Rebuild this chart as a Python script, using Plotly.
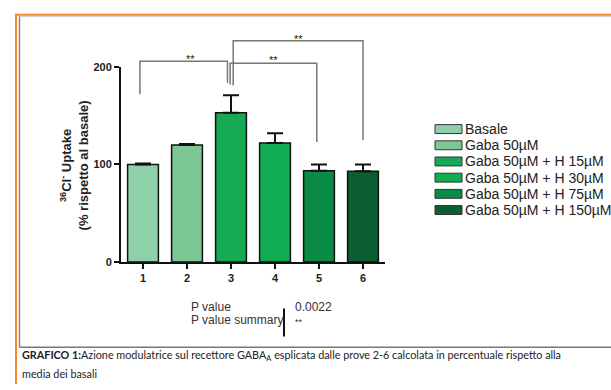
import plotly.graph_objects as go

# ---------------- data ----------------
categories = [1, 2, 3, 4, 5, 6]
series_labels = ["Basale", "Gaba 50µM", "Gaba 50µM + H 15µM", "Gaba 50µM + H 30µM",
                 "Gaba 50µM + H 75µM", "Gaba 50µM + H 150µM"]
uptake_mean = [100, 120, 153, 122, 93.5, 93]
uptake_err = [1, 1, 18, 10, 6.5, 7]
y_ticks = [0, 100, 200]
comparisons = [(1, 3), (3, 5), (3, 6)]
comparison_marks = ["**", "**", "**"]
p_value = "0.0022"
p_summary = "**"

# ---------------- styles / layout ----------------
W, H = 611, 390
bar_colors = ["#8fd0a9", "#7cc795", "#17aa55", "#0fae52", "#0a8b45", "#0b5e30"]
FONT = "Liberation Sans, Arial, sans-serif"

def PX(px):
    return px / W

def PY(py):
    return 1 - py / H

x_dom = [PX(121), PX(385)]
y_dom = [PY(264), PY(63)]
x_rng = [0.5, 6.5]
y_rng = [0, 200]

def dx(v):
    return x_dom[0] + (v - x_rng[0]) / (x_rng[1] - x_rng[0]) * (x_dom[1] - x_dom[0])

def dy(v):
    return y_dom[0] + (v - y_rng[0]) / (y_rng[1] - y_rng[0]) * (y_dom[1] - y_dom[0])

fig = go.Figure()
fig.add_trace(go.Bar(
    x=categories, y=uptake_mean, width=0.7,
    marker=dict(color=bar_colors, line=dict(color="#111", width=1.5)),
    error_y=dict(type="data", array=uptake_err, arrayminus=[0] * len(uptake_err),
                 symmetric=False, color="#111", thickness=2, width=8),
    showlegend=False, hoverinfo="skip",
))

shapes = []
annotations = []

# brackets: (left x offset, right x offset, top, left leg bottom, right leg bottom, star y)
bracket_geom = [
    (-0.07, -0.08, 206, 172, 184, 217),
    (-0.02, -0.05, 204, 182, 123, 215),
    (0.05, 0.0, 227, 181, 125, 237),
]
for (a, b), mark, g in zip(comparisons, comparison_marks, bracket_geom):
    xl, xr = a + g[0], b + g[1]
    path = (f"M {dx(xl)},{dy(g[3])} L {dx(xl)},{dy(g[2])} "
            f"L {dx(xr)},{dy(g[2])} L {dx(xr)},{dy(g[4])}")
    shapes.append(dict(type="path", xref="paper", yref="paper", path=path,
                       line=dict(color="#777", width=1.5)))
    annotations.append(dict(x=dx((xl + xr) / 2), y=dy(g[5]), xref="paper", yref="paper",
                            text=mark, showarrow=False,
                            font=dict(family=FONT, size=11, color="#222")))

# legend (manual, wide swatches)
leg_x0, leg_x1, leg_y0, leg_dy = 435, 462, 127, 16.7
for i, (lab, col) in enumerate(zip(series_labels, bar_colors)):
    yc = leg_y0 + i * leg_dy
    shapes.append(dict(type="rect", xref="paper", yref="paper",
                       x0=PX(leg_x0), x1=PX(leg_x1), y0=PY(yc - 4.6), y1=PY(yc + 4.6),
                       fillcolor=col, line=dict(color="#333", width=1)))
    annotations.append(dict(x=PX(leg_x1 + 1), y=PY(yc), xref="paper", yref="paper",
                            xanchor="left", yanchor="middle", text=lab, showarrow=False,
                            font=dict(family=FONT, size=14, color="#222")))

# y-axis title
annotations.append(dict(x=PX(56), y=PY(165), xref="paper", yref="paper", textangle=-90,
                        text="<b><sup>36</sup>Cl<sup>-</sup> Uptake<br>(% rispetto al basale)</b>",
                        showarrow=False, font=dict(family=FONT, size=13, color="#222")))

# P value table
annotations += [
    dict(x=PX(189), y=PY(320), xref="paper", yref="paper", xanchor="left", text="P value",
         showarrow=False, font=dict(family=FONT, size=12, color="#333")),
    dict(x=PX(189), y=PY(333), xref="paper", yref="paper", xanchor="left", text="P value summary",
         showarrow=False, font=dict(family=FONT, size=12, color="#333")),
    dict(x=PX(293), y=PY(320), xref="paper", yref="paper", xanchor="left", text=p_value,
         showarrow=False, font=dict(family=FONT, size=12, color="#333")),
    dict(x=PX(293), y=PY(333), xref="paper", yref="paper", xanchor="left", text=p_summary,
         showarrow=False, font=dict(family=FONT, size=9, color="#333")),
]
shapes.append(dict(type="line", xref="paper", yref="paper", x0=PX(284), x1=PX(284),
                   y0=PY(312), y1=PY(341), line=dict(color="#111", width=2)))

# frames
shapes += [
    dict(type="line", xref="paper", yref="paper", x0=PX(16), x1=PX(16), y0=0, y1=PY(8),
         line=dict(color="#f08a2c", width=2)),
    dict(type="line", xref="paper", yref="paper", x0=PX(15), x1=1, y0=PY(9), y1=PY(9),
         line=dict(color="#f08a2c", width=2)),
    dict(type="line", xref="paper", yref="paper", x0=PX(19.5), x1=PX(19.5), y0=PY(352), y1=PY(10.5),
         line=dict(color="#888", width=1.5)),
    dict(type="line", xref="paper", yref="paper", x0=PX(19.5), x1=1, y0=PY(10.5), y1=PY(10.5),
         line=dict(color="#bbb", width=1)),
    dict(type="line", xref="paper", yref="paper", x0=PX(19.5), x1=1, y0=PY(352), y1=PY(352),
         line=dict(color="#777", width=1.5)),
]

# caption
CAP = "Lato, Open Sans, sans-serif"
annotations += [
    dict(x=PX(20), y=PY(361), xref="paper", yref="paper", xanchor="left", yanchor="middle",
         text="<b>GRAFICO 1:</b>Azione modulatrice sul recettore GABA<sub>A</sub> esplicata dalle prove 2-6 "
              "calcolata in percentuale rispetto alla",
         showarrow=False, font=dict(family=CAP, size=10.8, color="#222")),
    dict(x=PX(20), y=PY(379), xref="paper", yref="paper", xanchor="left", yanchor="middle",
         text="media dei basali", showarrow=False, font=dict(family=CAP, size=10.8, color="#222")),
]

fig.update_layout(
    width=W, height=H, autosize=False,
    margin=dict(l=0, r=0, t=0, b=0),
    paper_bgcolor="white", plot_bgcolor="white",
    shapes=shapes, annotations=annotations,
    showlegend=False,
    xaxis=dict(domain=x_dom, range=x_rng, tickvals=categories, ticktext=[str(c) for c in categories],
               showline=True, linecolor="#111", linewidth=2, ticks="outside", ticklen=5,
               tickwidth=2, tickcolor="#111", showgrid=False, zeroline=False,
               tickfont=dict(family=FONT, size=11, color="#222", weight="bold")),
    yaxis=dict(domain=y_dom, range=y_rng, tickvals=y_ticks,
               showline=True, linecolor="#111", linewidth=2, ticks="outside", ticklen=5,
               tickwidth=2, tickcolor="#111", showgrid=False, zeroline=False,
               tickfont=dict(family=FONT, size=11, color="#222", weight="bold")),
)

fig.write_html("out.html", config={"displayModeBar": False},
               post_script="document.body.style.margin='0';document.body.style.overflow='hidden';")
